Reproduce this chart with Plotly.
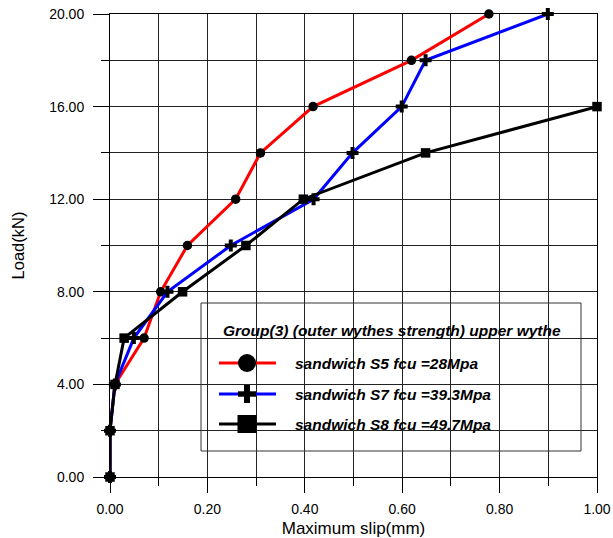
import plotly.graph_objects as go

# ---- data ----
load_kn = [0, 2, 4, 6, 8, 10, 12, 14, 16, 18, 20]
slip_s5 = [0.0, 0.0, 0.01, 0.07, 0.104, 0.159, 0.258, 0.309, 0.417, 0.619, 0.778]
slip_s7 = [0.0, 0.0, 0.01, 0.049, 0.118, 0.248, 0.418, 0.498, 0.599, 0.648, 0.899]
load_s8 = [0, 2, 4, 6, 8, 10, 12, 14, 16]
slip_s8 = [0.0, 0.0, 0.0103, 0.029, 0.149, 0.279, 0.397, 0.648, 1.0]

names = ["sandwich S5 fcu =28Mpa", "sandwich S7 fcu =39.3Mpa", "sandwich S8 fcu =49.7Mpa"]
colors = ["#ff0000", "#0000ff", "#000000"]
legend_title = "Group(3) (outer wythes strength) upper wythe"
x_title = "Maximum slip(mm)"
y_title = "Load(kN)"

FONT = "Liberation Sans, Arial, sans-serif"
W, H = 613, 538
L, R, T, B = 110, 16, 14, 61

fig = go.Figure()
series = [
    (slip_s5, load_kn, "circle", 9.5),
    (slip_s7, load_kn, "cross", 10),
    (slip_s8, load_s8, "square", 9.5),
]
for (xs, ys, sym, sz), nm, col in zip(series, names, colors):
    fig.add_trace(go.Scatter(
        x=xs, y=ys, mode="lines+markers", name=nm,
        line=dict(color=col, width=3),
        marker=dict(symbol=sym, size=sz, color="black", line=dict(width=0)),
        cliponaxis=False, showlegend=False,
    ))

# ---- custom legend (pixel -> paper helpers) ----
pw, ph = W - L - R, H - T - B
def px(x):
    return (x - L) / pw
def py(y):
    return (H - B - y) / ph

shapes = []
annotations = []
shapes.append(dict(type="rect", xref="paper", yref="paper",
                   x0=px(201), x1=px(581), y0=py(451), y1=py(303),
                   line=dict(color="#333333", width=1), fillcolor="rgba(0,0,0,0)"))
annotations.append(dict(xref="paper", yref="paper", x=px(221), y=py(330),
                        xanchor="left", yanchor="middle", showarrow=False,
                        text="<b><i>%s</i></b>" % legend_title,
                        font=dict(family=FONT, size=15.5, color="black")))
rows = [363, 394, 424]
cx = 247
for i, (nm, col, ry) in enumerate(zip(names, colors, rows)):
    shapes.append(dict(type="line", xref="paper", yref="paper",
                       x0=px(219), x1=px(276), y0=py(ry), y1=py(ry),
                       line=dict(color=col, width=3)))
    if i == 0:
        shapes.append(dict(type="circle", xref="paper", yref="paper",
                           x0=px(cx - 9), x1=px(cx + 9), y0=py(ry + 9), y1=py(ry - 9),
                           fillcolor="black", line=dict(width=0)))
    elif i == 1:
        shapes.append(dict(type="rect", xref="paper", yref="paper",
                           x0=px(cx - 9), x1=px(cx + 9), y0=py(ry + 2.7), y1=py(ry - 2.7),
                           fillcolor="black", line=dict(width=0)))
        shapes.append(dict(type="rect", xref="paper", yref="paper",
                           x0=px(cx - 3), x1=px(cx + 3), y0=py(ry + 9), y1=py(ry - 9),
                           fillcolor="black", line=dict(width=0)))
    else:
        shapes.append(dict(type="rect", xref="paper", yref="paper",
                           x0=px(cx - 9.5), x1=px(cx + 9.5), y0=py(ry + 9), y1=py(ry - 9),
                           fillcolor="black", line=dict(width=0)))
    annotations.append(dict(xref="paper", yref="paper", x=px(293), y=py(ry),
                            xanchor="left", yanchor="middle", showarrow=False,
                            text="<b><i>%s</i></b>" % nm,
                            font=dict(family=FONT, size=15.5, color="black")))

grid_col = "#222222"
fig.update_layout(
    width=W, height=H,
    margin=dict(l=L, r=R, t=T, b=B, pad=0, autoexpand=False),
    paper_bgcolor="white", plot_bgcolor="white",
    font=dict(family=FONT, color="black"),
    shapes=shapes, annotations=annotations,
    xaxis=dict(
        range=[0, 1], dtick=0.2, tick0=0, tickformat=".2f", automargin=False,
        showline=True, linecolor="black", linewidth=1, mirror=True,
        ticks="outside", ticklen=15, tickcolor="black", tickwidth=1,
        showgrid=True, gridcolor=grid_col, gridwidth=1, zeroline=False,
        minor=dict(dtick=0.1, ticks="outside", ticklen=8, tickcolor="black",
                   showgrid=True, gridcolor=grid_col, gridwidth=1),
        tickfont=dict(size=14, family=FONT),
        ticklabelstandoff=4,
        title=dict(text=x_title, font=dict(size=17, family=FONT), standoff=6),
    ),
    yaxis=dict(
        range=[0, 20], dtick=4, tick0=0, tickformat=".2f", automargin=False,
        showline=True, linecolor="black", linewidth=1, mirror=True,
        ticks="outside", ticklen=16, tickcolor="black", tickwidth=1,
        showgrid=True, gridcolor=grid_col, gridwidth=1, zeroline=False,
        minor=dict(dtick=2, ticks="outside", ticklen=8, tickcolor="black",
                   showgrid=True, gridcolor=grid_col, gridwidth=1),
        tickfont=dict(size=14, family=FONT),
        ticklabelstandoff=6,
        title=dict(text=y_title, font=dict(size=16.5, family=FONT), standoff=20),
    ),
)

fig.write_html("out.html")
